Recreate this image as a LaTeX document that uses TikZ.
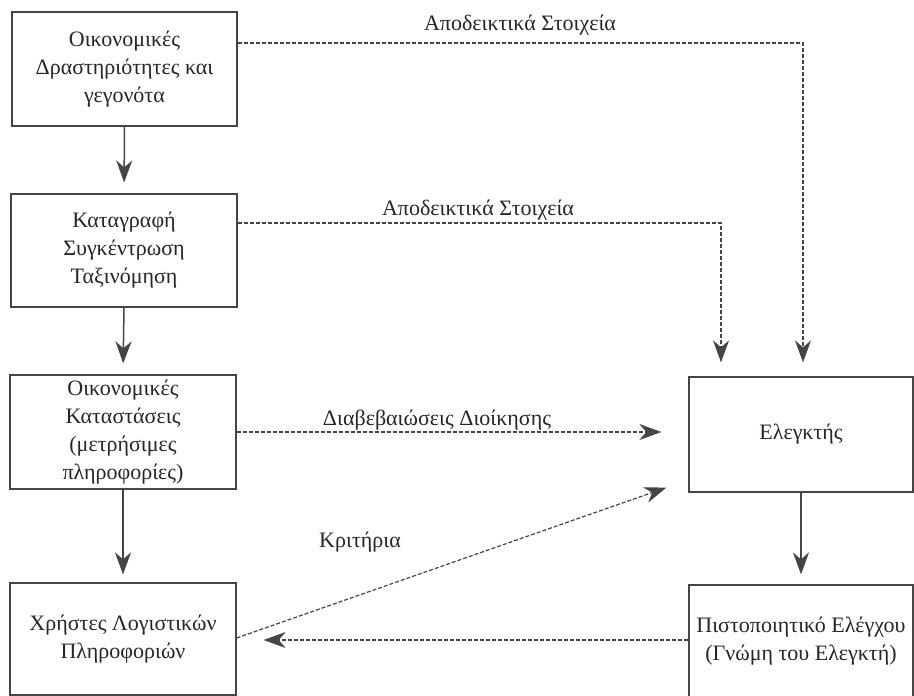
\documentclass[tikz,border=0pt]{standalone}
\usepackage{fontspec}
\setmainfont{Liberation Serif}
\usetikzlibrary{arrows.meta}
\definecolor{ink}{HTML}{262626}
\definecolor{linec}{HTML}{454545}
\begin{document}
\begin{tikzpicture}[x=1pt,y=-1pt,
  box/.style={draw=linec,line width=1.2pt,inner sep=0pt,align=center,text=ink,
    font=\fontsize{22}{28}\selectfont},
  lbl/.style={text=ink,inner sep=0pt,font=\fontsize{22}{26}\selectfont},
  tip/.style={-{Stealth[length=22pt,width=16pt,inset=7pt,fill=linec]}},
  solidarrow/.style={tip,draw=linec,line width=1.5pt},
  dasharrow/.style={tip,draw=linec,line width=1.2pt,dash pattern=on 4pt off 2pt}]
\useasboundingbox (0,0) rectangle (914,696);
% boxes
\node[box,minimum width=225pt,minimum height=114pt] (b1) at (124.5,69) {Οικονομικές\\Δραστηριότητες και\\γεγονότα};
\node[box,minimum width=226pt,minimum height=113pt] (b2) at (124,250.5) {Καταγραφή\\Συγκέντρωση\\Ταξινόμηση};
\node[box,minimum width=226pt,minimum height=114pt] (b3) at (123,432) {Οικονομικές\\Καταστάσεις\\(μετρήσιμες\\πληροφορίες)};
\node[box,minimum width=226pt,minimum height=112pt] (b4) at (123,639) {Χρήστες Λογιστικών\\Πληροφοριών};
\node[box,minimum width=224pt,minimum height=115pt] (el) at (801,434.5) {Ελεγκτής};
\node[box,minimum width=224pt,minimum height=112pt] (pi) at (801,641) {Πιστοποιητικό Ελέγχου\\(Γνώμη του Ελεγκτή)};
% solid arrows
\draw[solidarrow,shorten >=11pt] (b1.south) -- (b2.north);
\draw[solidarrow,shorten >=11pt] (b2.south) -- (b3.north);
\draw[solidarrow,shorten >=8pt] (b3.south) -- (b4.north);
\draw[solidarrow,shorten >=10pt] (el.south) -- (pi.north);
% dashed arrows
\draw[dasharrow] ([yshift=26pt]b1.east) -| ([xshift=2pt,yshift=14pt]el.north);
\draw[dasharrow] ([yshift=27.5pt]b2.east) -| ([xshift=-80pt,yshift=14pt]el.north);
\draw[dasharrow,shorten >=27pt] (b3.east) -- (b3.east -| el.west);
\draw[dasharrow] ([yshift=1pt]b4.east) -- ([xshift=-22pt,yshift=5pt]el.south west);
\draw[dasharrow,shorten >=27pt] ([yshift=1pt]pi.west) -- ([yshift=1pt]pi.west -| b4.east);
% labels
\node[lbl] (l1) at (520,25) {Αποδεικτικά Στοιχεία};
\node[lbl] (l2) at (478,210) {Αποδεικτικά Στοιχεία};
\node[lbl] (l3) at (437,420) {Διαβεβαιώσεις Διοίκησης};
\node[lbl] (l4) at (360,542) {Κριτήρια};
\end{tikzpicture}
\end{document}
